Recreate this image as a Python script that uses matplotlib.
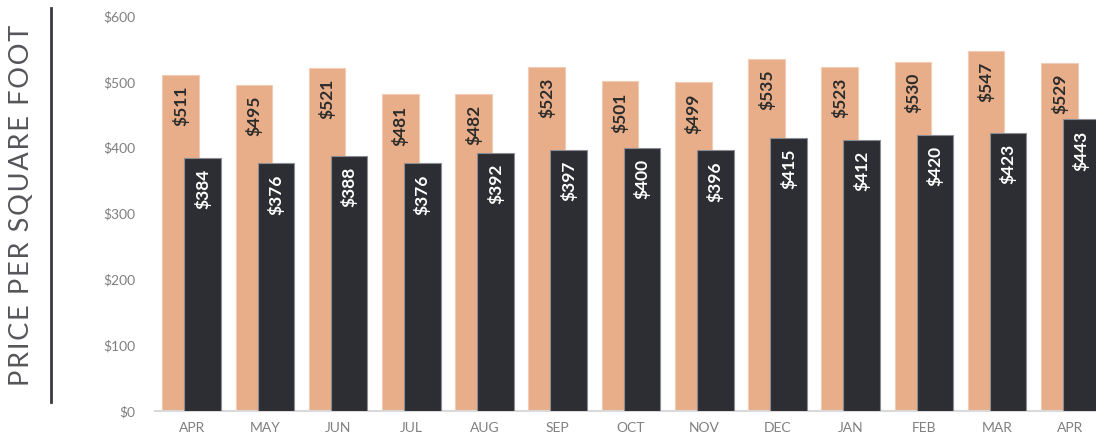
import numpy as np
import matplotlib
matplotlib.use("Agg")
import matplotlib.pyplot as plt

months = ["APR", "MAY", "JUN", "JUL", "AUG", "SEP", "OCT", "NOV", "DEC", "JAN", "FEB", "MAR", "APR"]
tan_vals = [511, 495, 521, 481, 482, 523, 501, 499, 535, 523, 530, 547, 529]
dark_vals = [384, 376, 388, 376, 392, 397, 400, 396, 415, 412, 420, 423, 443]
yticks = [0, 100, 200, 300, 400, 500, 600]

tan = "#E8AD89"
dark = "#2D2E33"

plt.rcParams['font.family'] = ['Lato', 'DejaVu Sans']

fig = plt.figure(figsize=(10.96, 4.43), dpi=100)
ax = fig.add_axes([155 / 1096, 32 / 443, 952 / 1096, 395 / 443])

x = np.arange(len(months))
w = 0.5
ax.bar(x - 0.15, tan_vals, w, color=tan, edgecolor="#F2CDB6", linewidth=0.8, zorder=2)
ax.bar(x + 0.15, dark_vals, w, color=dark, edgecolor="#8C8D92", linewidth=0.8, zorder=3)

# labels inside top of bars, rotated
for i in range(len(months)):
    ax.annotate(f"${tan_vals[i]}", (x[i] - 0.15, tan_vals[i]), xytext=(0, -11),
                textcoords="offset pixels", rotation=90, ha="center", va="top",
                fontsize=12.5, fontweight="bold", color="#2B2B2B", zorder=4)
    ax.annotate(f"${dark_vals[i]}", (x[i] + 0.15, dark_vals[i]), xytext=(0, -11),
                textcoords="offset pixels", rotation=90, ha="center", va="top",
                fontsize=12.5, fontweight="bold", color="white", zorder=4)

ax.set_xlim(-0.5, len(months) - 0.5)
ax.set_ylim(0, 600)
ax.set_yticks(yticks)
ax.set_yticklabels([f"${v}" for v in yticks])
ax.set_xticks(x)
ax.set_xticklabels(months)
ax.tick_params(axis="both", length=0, labelsize=10, colors="#7F7F7F")
ax.tick_params(axis="y", pad=14)
ax.tick_params(axis="x", pad=8)
for s in ["top", "right", "left"]:
    ax.spines[s].set_visible(False)
ax.spines["bottom"].set_color("#D9D9D9")
ax.spines["bottom"].set_linewidth(1.5)

ylabel = "P R I C E   P E R   S Q U A R E   F O O T".replace("   ", "\u2009\u2009\u2009").replace(" ", "\u200a")
fig.text(22 / 1096, 1 - 205 / 443, ylabel, rotation=90, ha="center", va="center",
         fontsize=19.5, color="#55555A")
fig.add_artist(plt.Line2D([51 / 1096, 51 / 1096], [1 - 8 / 443, 1 - 402 / 443],
                          color="#3A3A3E", linewidth=2))

fig.savefig("out.png", dpi=100)
